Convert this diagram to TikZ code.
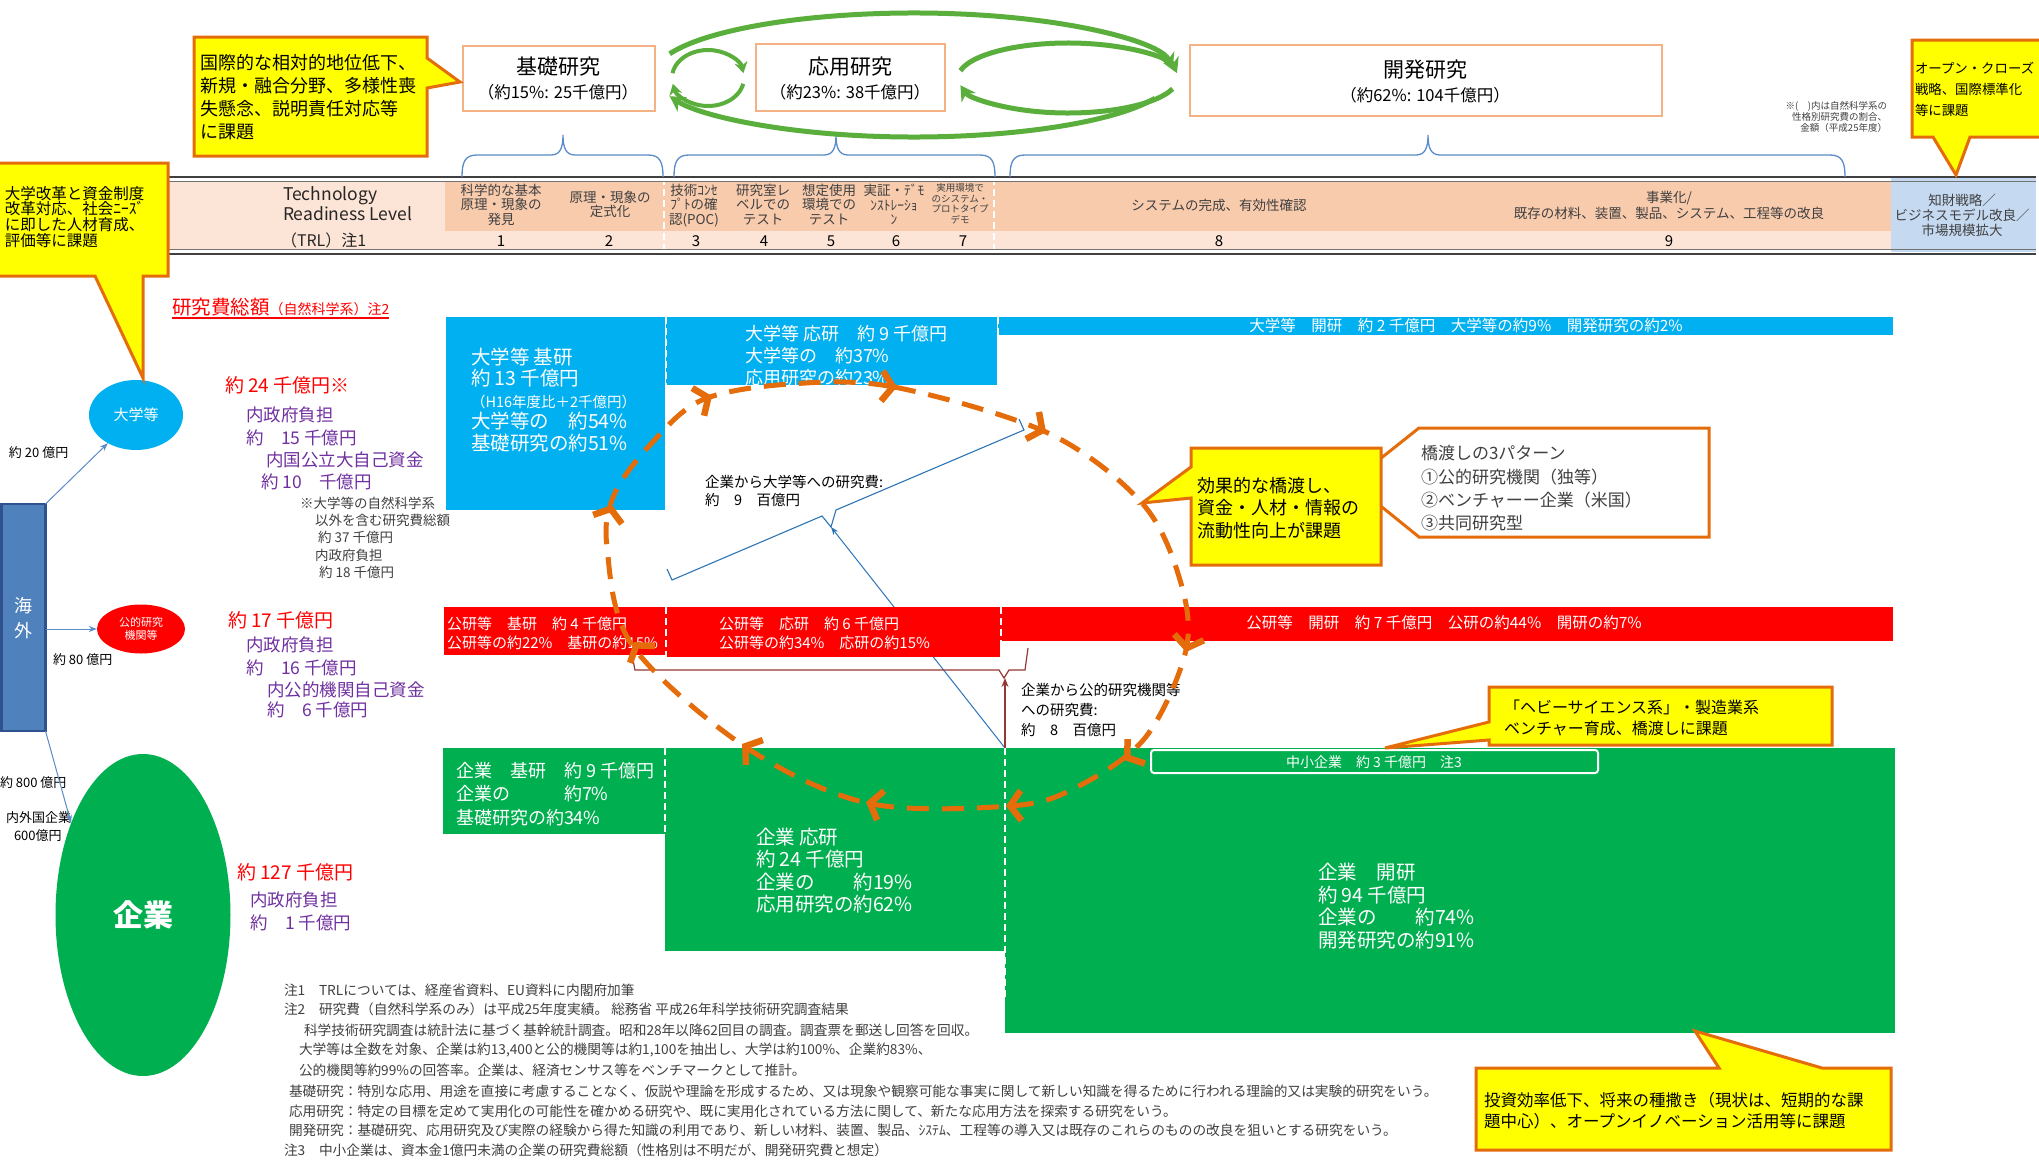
\documentclass[tikz,border=0pt]{standalone}
\usepackage{fontspec}
\setmainfont{Noto Sans CJK JP}
\usetikzlibrary{arrows.meta,shapes.geometric,calc}
\definecolor{cyel}{HTML}{FFFF00}
\definecolor{corg}{HTML}{E46C0A}
\definecolor{ublue}{HTML}{00B0F0}
\definecolor{pred}{HTML}{FF0000}
\definecolor{egreen}{HTML}{00B050}
\definecolor{purp}{HTML}{7030A0}
\definecolor{peachL}{HTML}{FCE4D6}
\definecolor{peachD}{HTML}{F8CBAD}
\definecolor{trlb}{HTML}{C5D9F1}
\definecolor{boxorg}{HTML}{F4B183}
\definecolor{brblue}{HTML}{5B8BC9}
\definecolor{arrgreen}{HTML}{5AAE3C}
\definecolor{kaiblue}{HTML}{4F81BD}
\definecolor{kaidark}{HTML}{2F528F}
\definecolor{dred}{HTML}{953735}
\definecolor{lblue}{HTML}{2E75B6}
\definecolor{tgray}{HTML}{404040}
\newcommand\myfs[2]{\fontsize{#1pt}{#2pt}\selectfont}
\newcommand\topbrace[3]{%
  \draw[bracel] (#1,177) .. controls (#1,162) and ({#1+3},155) .. ({#1+15},155)
   -- ({#3-12},155) .. controls ({#3-3},155) and (#3,148) .. (#3,135)
   .. controls (#3,148) and ({#3+3},155) .. ({#3+12},155)
   -- ({#2-15},155) .. controls ({#2-3},155) and (#2,162) .. (#2,177);}
\tikzset{
  txt/.style={inner sep=0pt, outer sep=0pt},
  lt/.style={txt, anchor=north west, align=left},
  lw/.style={txt, anchor=west},
  ct/.style={txt, anchor=center, align=center},
  callout/.style={fill=cyel, draw=corg, line width=3pt, line join=miter},
  topbox/.style={draw=boxorg, line width=1.5pt, fill=white, inner sep=0pt, anchor=north west},
  boxnode/.style={inner sep=0pt, outer sep=0pt, anchor=north west, draw=none},
  wdash/.style={draw=white, line width=2pt, dash pattern=on 7pt off 4pt},
  bracel/.style={draw=brblue, line width=1.3pt},
  greenarc/.style={draw=arrgreen, line width=5pt, -{Stealth[length=15pt,width=17pt]}},
  greenarcs/.style={draw=arrgreen, line width=4pt, -{Stealth[length=11pt,width=13pt]}},
  orangecycle/.style={draw=corg, line width=5pt, dash pattern=on 22pt off 13pt},
  obarb/.style={draw=corg, fill=corg, line width=5pt, -{Straight Barb[length=11pt,width=30pt,line width=6.5pt]}},
  smallarr/.style={draw=lblue, line width=1pt, -{Stealth[length=8pt,width=6pt]}},
  colt/.style={txt, anchor=north, align=center, font=\myfs{13.5}{14.5}, text=tgray},
  num/.style={txt, anchor=center, font=\myfs{15}{16}, text=black},
  purpt/.style={lw, text=purp, font=\myfs{17.5}{19}},
  redt/.style={lw, text=pred, font=\myfs{19}{20}},
  notes/.style={lw, text=tgray, font=\myfs{13.7}{15}},
}
\begin{document}
\begin{tikzpicture}[x=1pt,y=-1pt]
\useasboundingbox[fill=white] (0,0) rectangle (2039,1159);

% ---------------- TRL band
\fill[peachL] (169,181) rectangle (1891,250);
\fill[peachD] (445,181) rectangle (1891,231);
\fill[trlb] (1891,178) rectangle (2036,252);
\draw[wdash] (664,178) -- (664,252);
\draw[wdash] (994,178) -- (994,252);
\draw[line width=1.8pt, black!75] (169,177) -- (2036,177);
\draw[line width=0.7pt, black!55] (169,181.5) -- (2036,181.5);
\draw[line width=0.7pt, black!55] (169,249.5) -- (2036,249.5);
\draw[line width=1.8pt, black!75] (169,254) -- (2036,254);

\node[lt, font=\myfs{17.5}{18}, text=black!85] (trlA) at (283,187) {Technology\\Readiness Level};
\node[lw, font=\myfs{16}{18}, text=black!85] (trlB) at (281,240) {（TRL）注1};
\node[colt] (c1) at (501,184) {科学的な基本\\原理・現象の\\発見};
\node[colt] (c2) at (610,191) {原理・現象の\\定式化};
\node[colt] (c3) at (694,184) {技術ｺﾝｾ\\ﾌﾟﾄの確\\認(POC)};
\node[colt] (c4) at (763,184) {研究室レ\\ベルでの\\テスト};
\node[colt] (c5) at (829,184) {想定使用\\環境での\\テスト};
\node[colt] (c6) at (894,184) {実証・ﾃﾞﾓ\\ﾝｽﾄﾚｰｼｮ\\ﾝ};
\node[colt, font=\myfs{9.5}{10.5}] (c7) at (960,184) {実用環境で\\のシステム・\\プロトタイプ\\デモ};
\node[ct, font=\myfs{13.5}{15}, text=tgray] (c8) at (1219,205) {システムの完成、有効性確認};
\node[colt, font=\myfs{13.5}{16}] (c9) at (1669,191) {事業化/\\既存の材料、装置、製品、システム、工程等の改良};
\node[num] (n1) at (501,241) {1};
\node[num] (n2) at (609,241) {2};
\node[num] (n3) at (696,241) {3};
\node[num] (n4) at (764,241) {4};
\node[num] (n5) at (831,241) {5};
\node[num] (n6) at (896,241) {6};
\node[num] (n7) at (963,241) {7};
\node[num] (n8) at (1219,241) {8};
\node[num] (n9) at (1669,241) {9};
\node[ct, font=\myfs{13.5}{15}, text=tgray] (trlIP) at (1962,215) {知財戦略／\\ビジネスモデル改良／\\市場規模拡大};
\node[txt, anchor=north east, align=right, font=\myfs{9.5}{11}, text=tgray] (note) at (1887,101) {※(\hspace{1em})内は自然科学系の\\性格別研究費の割合、\\金額（平成25年度）};

% ---------------- braces
\topbrace{462}{663}{563}
\topbrace{674}{995}{836}
\topbrace{1010}{1845}{1428}

% ---------------- top boxes
\node[topbox, minimum width=192pt, minimum height=65pt] (kiso) at (462,45) {};
\node[ct, font=\myfs{21}{25}] (kisoT) at (558,67) {基礎研究};
\node[ct, font=\myfs{16.5}{20}] (kisoS) at (558,92) {（約15\%: 25千億円）};
\node[topbox, minimum width=189pt, minimum height=67pt] (ouyou) at (755,43) {};
\node[ct, font=\myfs{21}{25}] (ouyouT) at (850,67) {応用研究};
\node[ct, font=\myfs{16.5}{20}] (ouyouS) at (850,92) {（約23\%: 38千億円）};
\node[topbox, minimum width=472pt, minimum height=71pt] (kaihatsu) at (1189,44) {};
\node[ct, font=\myfs{21}{25}] (kaihatsuT) at (1425,70) {開発研究};
\node[ct, font=\myfs{16.5}{20}] (kaihatsuS) at (1425,95) {（約62\%: 104千億円）};

% ---------------- green cycle arrows
\coordinate (gBig) at (914,75);
\draw[greenarc] ([shift={(200:260 and 62)}]gBig) arc[start angle=200, end angle=354, x radius=260, y radius=62];
\draw[greenarc] ([shift={(22:260 and 62)}]gBig) arc[start angle=22, end angle=160, x radius=260, y radius=62];
\coordinate (gSm) at (708,78);
\draw[greenarcs] ([shift={(190:36 and 28)}]gSm) arc[start angle=190, end angle=350, x radius=36, y radius=28];
\draw[greenarcs] ([shift={(12:36 and 28)}]gSm) arc[start angle=12, end angle=168, x radius=36, y radius=28];
\coordinate (gMid) at (1068,78);
\draw[greenarc] ([shift={(192:110 and 35)}]gMid) arc[start angle=192, end angle=352, x radius=110, y radius=35];
\draw[greenarc] ([shift={(18:110 and 35)}]gMid) arc[start angle=18, end angle=168, x radius=110, y radius=35];

% ---------------- header
\node[lw, text=pred] (hdr) at (172,307) {{\myfs{19.5}{20}研究費総額}{\myfs{14}{15}（自然科学系）注2}};
\draw[pred, line width=1.3pt] ([yshift=-2pt]hdr.south west) -- ([yshift=-2pt]hdr.south east);

% ---------------- left side
\node[lw, font=\myfs{13}{14}] (k20) at (9,453) {約 20 億円};
\node[lw, font=\myfs{13}{14}] (k80) at (53,660) {約 80 億円};
\node[lw, font=\myfs{13}{14}] (k800) at (0,783) {約 800 億円};
\node[lt, font=\myfs{13}{18}] (kfor) at (6,812) {内外国企業\\\hspace*{8pt}600億円};
\node[txt, draw=kaidark, line width=2.5pt, fill=kaiblue, minimum width=44pt, minimum height=227pt, anchor=north west] (kaigai) at (1.5,504) {};
\node[ct, white, font=\myfs{18}{25}] (kaigaiT) at (23.5,618) {海\\外};
\node[ellipse, fill=ublue, minimum width=94pt, minimum height=70pt, inner sep=0pt, text=white, font=\myfs{15}{16}] (univ) at (136,415) {大学等};
\node[ellipse, fill=pred, minimum width=88pt, minimum height=49pt, inner sep=0pt, text=white, font=\myfs{11}{12.5}, align=center] (pub) at (141,629) {公的研究\\機関等};
\node[ellipse, fill=egreen, minimum width=175pt, minimum height=322pt, inner sep=0pt, text=white, font=\myfs{30}{32}\bfseries] (ent) at (143,915) {企業};
\draw[smallarr, draw=brblue] (kaigai.north east) -- (univ.225);
\draw[smallarr, draw=brblue] (pub.west -| kaigai.east) -- (pub.west);
\draw[smallarr, draw=brblue] (kaigai.south east) -- (ent.128);

\node[redt] (u1) at (225,385) {約 24 千億円※};
\node[purpt] (u2) at (246,415) {内政府負担};
\node[purpt] (u3) at (246,438) {約　15 千億円};
\node[purpt] (u4) at (266,460) {内国公立大自己資金};
\node[purpt] (u5) at (261,482) {約 10　千億円};
\node[lt, text=tgray, font=\myfs{13.5}{17.2}] (u6) at (300,497) {※大学等の自然科学系\\\hspace*{15pt}以外を含む研究費総額\\\hspace*{18pt}約 37 千億円\\\hspace*{15pt}内政府負担\\\hspace*{19pt}約 18 千億円};
\node[redt] (p1) at (228,620) {約 17 千億円};
\node[purpt] (p2) at (246,645) {内政府負担};
\node[purpt] (p3) at (246,668) {約　16 千億円};
\node[purpt] (p4) at (267,690) {内公的機関自己資金};
\node[purpt] (p5) at (267,710) {約　6 千億円};
\node[redt] (e1) at (237,872) {約 127 千億円};
\node[purpt] (e2) at (250,900) {内政府負担};
\node[purpt] (e3) at (250,923) {約　1 千億円};

% ---------------- green row
\node[boxnode, fill=egreen, minimum width=890pt, minimum height=285pt] (eDev) at (1005,748) {};
\node[boxnode, fill=egreen, minimum width=222pt, minimum height=86pt] (eBasic) at (443,748) {};
\node[boxnode, fill=egreen, minimum width=340pt, minimum height=203pt] (eApp) at (665,748) {};
\draw[wdash] (665,748) -- (665,834);
\draw[wdash] (1005,748) -- (1005,997);
\node[boxnode, draw=white, line width=2pt, rounded corners=3pt, minimum width=447pt, minimum height=23pt] (sme) at (1151,750) {};

% ---------------- funding flows from enterprises
\coordinate (tipU) at (831,527);
\draw[draw=lblue, line width=1.1pt] (667,569) -- (672,580) -- (822,516) -- (tipU) -- (836,510) -- (1024,430) -- (1019,419);
\draw[smallarr] (eDev.north west) -- (tipU);
\coordinate (tipP) at (1004,678);
\draw[draw=dred, line width=1.2pt] (632,655) -- (635,670) -- (999,670) -- (tipP) -- (1009,670) -- (1025,670) -- (1028,648);
\draw[draw=dred, line width=1.2pt, -{Stealth[length=9pt,width=7pt]}] (eDev.north west) -- (eDev.north west |- tipP);

% ---------------- blue row
\node[boxnode, fill=ublue, minimum width=219pt, minimum height=193pt] (uBasic) at (446,317) {};
\node[boxnode, fill=ublue, minimum width=331pt, minimum height=68pt] (uApp) at (666,317) {};
\node[boxnode, fill=ublue, minimum width=895pt, minimum height=18pt] (uDev) at (998,317) {};
\draw[wdash] (666,317) -- (666,386);
\draw[wdash] (998,317) -- (998,336);

% ---------------- red row
\node[boxnode, fill=pred, minimum width=221pt, minimum height=48pt] (pBasic) at (444,607) {};
\node[boxnode, fill=pred, minimum width=335pt, minimum height=50pt] (pApp) at (665,607) {};
\node[boxnode, fill=pred, minimum width=893pt, minimum height=34pt] (pDev) at (1000,607) {};
\draw[wdash] (665.5,607) -- (665.5,657);
\draw[wdash] (1001,607) -- (1001,657);

% ---------------- box texts
\node[lt, white, font=\myfs{19.5}{21.5}] (uBasicT) at (471,348) {大学等 基研\\約 13 千億円\\{\myfs{14.5}{21.5}（H16年度比＋2千億円）}\\大学等の　約54\%\\基礎研究の約51\%};
\node[lt, white, font=\myfs{18}{22}] (uAppT) at (745,325) {大学等 応研　約 9 千億円\\大学等の　約37\%\\応用研究の約23\%};
\node[ct, white, font=\myfs{15.5}{16}] (uDevT) at (1466,326) {大学等　開研　約 2 千億円　大学等の約9\%　開発研究の約2\%};
\node[lt, white, font=\myfs{15}{19}] (pBasicT) at (447,616.5) {公研等　基研　約 4 千億円\\公研等の約22\%　基研の約15\%};
\node[lt, white, font=\myfs{15}{19}] (pAppT) at (719,616.5) {公研等　応研　約 6 千億円\\公研等の約34\%　応研の約15\%};
\node[ct, white, font=\myfs{15.5}{17}] (pDevT) at (1444,623) {公研等　開研　約 7 千億円　公研の約44\%　開研の約7\%};
\node[lt, white, font=\myfs{18}{23.5}] (eBasicT) at (456,762) {企業　基研　約 9 千億円\\企業の　　　約7\%\\基礎研究の約34\%};
\node[lt, white, font=\myfs{19.5}{22.4}] (eAppT) at (756,828) {企業 応研\\約 24 千億円\\企業の　　約19\%\\応用研究の約62\%};
\node[lt, white, font=\myfs{19.5}{22.7}] (eDevT) at (1318,863) {企業　開研\\約 94 千億円\\企業の　　約74\%\\開発研究の約91\%};
\node[ct, white, font=\myfs{14}{15}] (smeT) at (1374,762) {中小企業　約 3 千億円　注3};

\node[lt, font=\myfs{14.5}{18}] (uFlow) at (705,475.5) {企業から大学等への研究費:\\約　9　百億円};
\node[lt, font=\myfs{14.5}{20}] (pFlow) at (1021,683.5) {企業から公的研究機関等\\への研究費:\\約　8　百億円};

% ---------------- orange bridging cycle
\draw[orangecycle] plot[smooth cycle, tension=0.55] coordinates {(790,384) (894,387) (1048,433) (1142,503) (1180,580) (1186,650) (1145,738) (1075,788) (1010,806) (867,803) (744,746) (632,645) (607,547) (614,495) (650,445) (702,400)};
\draw[obarb] (894,386.8) -- (897,387);
\draw[obarb] (1043.3,430.7) -- (1046,432);
\draw[obarb] (1186.6,649.1) -- (1186,652);
\draw[obarb] (1126.4,758.3) -- (1124,760);
\draw[obarb] (1009,805.9) -- (1006,806);
\draw[obarb] (868.9,802.7) -- (866,802);
\draw[obarb] (744.5,745.7) -- (742,744);
\draw[obarb] (635.7,644.5) -- (634,642);
\draw[obarb] (611.1,507.9) -- (612,505);
\draw[obarb] (709.2,397.2) -- (712,396);

% ---------------- callouts
\draw[callout] (194,37) -- (427,37) -- (427,58) -- (460,82) -- (427,88) -- (427,156) -- (194,156) -- cycle;
\node[lt, font=\myfs{18}{23}] (cA) at (200,54) {国際的な相対的地位低下、\\新規・融合分野、多様性喪\\失懸念、説明責任対応等\\に課題};
\draw[callout] (-5,163) -- (168,163) -- (168,276) -- (143,276) -- (143,378) -- (95,276) -- (-5,276) -- cycle;
\node[lt, font=\myfs{15.5}{15.8}] (cC) at (5,186) {大学改革と資金制度\\改革対応、社会ﾆｰｽﾞ\\に即した人材育成、\\評価等に課題};
\draw[callout] (1912,40) -- (2060,40) -- (2060,137) -- (1970,137) -- (1956,175) -- (1933,137) -- (1912,137) -- cycle;
\node[lt, font=\myfs{13.4}{21}] (cB) at (1915,62) {オープン・クローズ\\戦略、国際標準化\\等に課題};
\draw[callout, fill=white] (1419,428) -- (1709,428) -- (1709,537) -- (1419,537) -- (1351,482) -- cycle;
\node[lt, font=\myfs{17}{23.3}, text=tgray] (cE) at (1421,445.5) {橋渡しの3パターン\\①公的研究機関（独等）\\②ベンチャーー企業（米国）\\③共同研究型};
\draw[callout] (1191,448) -- (1381,448) -- (1381,565) -- (1191,565) -- (1191,498) -- (1142,503) -- (1191,467) -- cycle;
\node[lt, font=\myfs{18}{22.5}] (cD) at (1197,477) {効果的な橋渡し、\\資金・人材・情報の\\流動性向上が課題};
\draw[callout] (1489,687) -- (1832,687) -- (1832,745) -- (1489,745) -- (1489,740) -- (1385,748) -- (1489,722) -- cycle;
\node[lt, font=\myfs{16}{21}] (cF) at (1504,700) {「ヘビーサイエンス系」・製造業系\\ベンチャー育成、橋渡しに課題};
\draw[callout] (1476,1068) -- (1719,1068) -- (1695,1031) -- (1822,1068) -- (1891,1068) -- (1891,1150) -- (1476,1150) -- cycle;
\node[lt, font=\myfs{16.5}{20.5}] (cG) at (1484,1092.5) {投資効率低下、将来の種撒き（現状は、短期的な課\\題中心）、オープンイノベーション活用等に課題};

% ---------------- notes
\node[notes] (m1) at (284,990) {注1　TRLについては、経産省資料、EU資料に内閣府加筆};
\node[notes] (m2) at (284,1009) {注2　研究費（自然科学系のみ）は平成25年度実績。 総務省 平成26年科学技術研究調査結果};
\node[notes] (m3) at (304,1030) {科学技術研究調査は統計法に基づく基幹統計調査。昭和28年以降62回目の調査。調査票を郵送し回答を回収。};
\node[notes] (m4) at (299,1050) {大学等は全数を対象、企業は約13,400と公的機関等は約1,100を抽出し、大学は約100\%、企業約83\%、};
\node[notes] (m5) at (299,1070) {公的機関等約99\%の回答率。企業は、経済センサス等をベンチマークとして推計。};
\node[notes] (m6) at (289,1091) {基礎研究：特別な応用、用途を直接に考慮することなく、仮説や理論を形成するため、又は現象や観察可能な事実に関して新しい知識を得るために行われる理論的又は実験的研究をいう。};
\node[notes] (m7) at (289,1111) {応用研究：特定の目標を定めて実用化の可能性を確かめる研究や、既に実用化されている方法に関して、新たな応用方法を探索する研究をいう。};
\node[notes] (m8) at (289,1130) {開発研究：基礎研究、応用研究及び実際の経験から得た知識の利用であり、新しい材料、装置、製品、ｼｽﾃﾑ、工程等の導入又は既存のこれらのものの改良を狙いとする研究をいう。};
\node[notes] (m9) at (284,1150) {注3　中小企業は、資本金1億円未満の企業の研究費総額（性格別は不明だが、開発研究費と想定）};
\end{tikzpicture}
\end{document}
